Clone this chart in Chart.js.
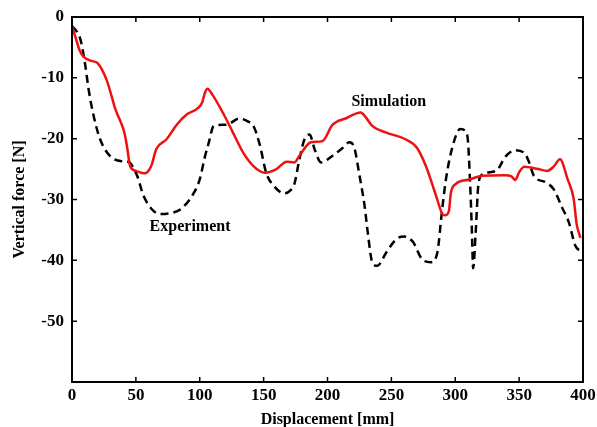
<!DOCTYPE html>
<html>
<head>
<meta charset="utf-8">
<script src="https://cdn.jsdelivr.net/npm/chart.js@4.4.1/dist/chart.umd.min.js"></script>
<style>
  html, body { margin: 0; padding: 0; background: #fff; }
  #forceChart { display: block; }
</style>
</head>
<body>
<canvas id="forceChart" width="597" height="427"></canvas>
<script>
const simX = [0, 3, 6, 9, 15, 20, 27, 31, 34, 38, 41, 43, 45.5, 50, 57, 62, 66, 74, 82, 90, 99, 102, 104, 106, 110, 118, 126, 134, 142, 151, 160, 168, 174, 178, 187, 196, 204, 215, 226, 230, 235, 246, 261, 270, 277, 285, 290, 292, 295, 296.6, 300, 311, 321, 339, 344, 347, 350, 354, 365, 372, 377, 382, 388, 392.7, 395, 398]
const simY = [-1.5, -3.5, -5.5, -6.5, -7.2, -7.6, -10.3, -13, -15.2, -17.2, -19, -21.2, -24.5, -25.3, -25.7, -24.5, -21.7, -20.1, -17.7, -16, -14.9, -14, -12.5, -11.8, -12.8, -15.7, -19, -22.3, -24.5, -25.6, -25, -23.8, -23.9, -22.8, -20.6, -20.4, -17.7, -16.6, -15.7, -16.5, -17.9, -19, -20.1, -21.5, -24.5, -29.4, -32.4, -32.6, -31.9, -28.9, -27.5, -26.7, -26.1, -26, -26.2, -26.8, -25.5, -24.6, -25, -25.3, -24.6, -23.4, -26.7, -29.9, -34, -36.3]

const expX = [0, 4, 7, 10.5, 13, 17, 22, 30, 39, 44, 51, 56, 64, 70, 78, 85, 94, 100, 104, 107, 111, 121, 131, 138, 142, 147, 152, 159, 166, 171, 174, 178, 182, 186, 190, 195, 204, 212, 217, 221, 225, 229, 231.5, 235, 239, 246, 254, 260, 267, 274, 281, 286, 289.5, 292.7, 298, 304, 308, 310, 311.5, 313, 314, 316, 318, 321, 332, 339.5, 347, 355, 358, 361.5, 371, 377, 383.6, 389, 394, 398]
const expY = [-1.5, -2.5, -4, -8.1, -11.9, -16.3, -20.1, -22.9, -23.7, -23.8, -26.1, -29.4, -31.9, -32.4, -32.2, -31.6, -29.4, -26.7, -23, -20.7, -17.9, -17.7, -16.7, -17.2, -17.9, -21, -25.6, -28, -29, -28.5, -27.5, -23.4, -20.1, -19.3, -21.8, -23.9, -22.8, -21.5, -20.6, -21.5, -26, -31, -35.4, -40.3, -40.9, -38.7, -36.5, -36.1, -37, -39.8, -40.3, -38.7, -32.1, -26.7, -21.2, -18.4, -18.8, -20.5, -26.7, -34.9, -41.3, -35.4, -27.8, -25.9, -25.3, -22.9, -21.9, -22.6, -24, -26.1, -27.2, -28.3, -31.3, -33.8, -37.6, -38.5]

const seriesNames = ['Simulation', 'Experiment']
const seriesLabelAt = [[248, -13.9], [92.4, -34.5]]

const serif = "'Liberation Serif', 'DejaVu Serif', serif"

const toPoints = (xs, ys) => xs.map((x, i) => ({ x, y: ys[i] }))

// frame around the plot with inward ticks on all four sides
const framePlugin = {
    id: 'frame',
    afterDatasetsDraw(chart) {
        const { ctx, chartArea: a, scales: { x, y } } = chart
        const len = 5
        ctx.save()
        ctx.strokeStyle = '#000'
        ctx.lineWidth = 1.5
        x.ticks.forEach(t => {
            const px = x.getPixelForValue(t.value)
            ctx.beginPath()
            ctx.moveTo(px, a.bottom); ctx.lineTo(px, a.bottom - len)
            ctx.moveTo(px, a.top); ctx.lineTo(px, a.top + len)
            ctx.stroke()
        })
        y.ticks.forEach(t => {
            const py = y.getPixelForValue(t.value)
            ctx.beginPath()
            ctx.moveTo(a.left, py); ctx.lineTo(a.left + len, py)
            ctx.moveTo(a.right, py); ctx.lineTo(a.right - len, py)
            ctx.stroke()
        })
        ctx.lineWidth = 2
        ctx.strokeRect(a.left, a.top, a.right - a.left, a.bottom - a.top)

        ctx.fillStyle = '#000'
        ctx.font = 'bold 16px ' + serif
        ctx.textAlign = 'center'
        ctx.textBaseline = 'middle'
        seriesNames.forEach((name, i) => {
            const [vx, vy] = seriesLabelAt[i]
            ctx.fillText(name, x.getPixelForValue(vx), y.getPixelForValue(vy))
        })
        ctx.restore()
    }
}

const data = {
    datasets: [{
        label: seriesNames[0],
        data: toPoints(simX, simY),
        borderColor: '#ee1111',
        borderWidth: 2.5,
        pointRadius: 0,
        cubicInterpolationMode: 'monotone'
    }, {
        label: seriesNames[1],
        data: toPoints(expX, expY),
        borderColor: '#000',
        borderWidth: 2.5,
        borderDash: [8, 5],
        pointRadius: 0,
        cubicInterpolationMode: 'monotone'
    }]
}

const options = {
    responsive: false,
    animation: false,
    layout: { padding: { left: 0, right: 14, top: 17, bottom: 0 } },
    plugins: {
        legend: { display: false },
        tooltip: { enabled: false }
    },
    scales: {
        x: {
            type: 'linear',
            min: 0,
            max: 400,
            grid: { display: false, drawTicks: false },
            border: { display: false },
            ticks: { stepSize: 50, padding: 3, color: '#000', font: { family: serif, size: 17, weight: 'bold' } },
            title: { display: true, text: 'Displacement [mm]', color: '#000', padding: { top: 0, bottom: -2 }, font: { family: serif, size: 16, weight: 'bold' } },
            afterFit: scale => {
                scale.height = 45
                scale.paddingRight = 0
                scale.paddingLeft = 0
            }
        },
        y: {
            min: -60,
            max: 0,
            grid: { display: false, drawTicks: false },
            border: { display: false },
            ticks: {
                stepSize: 10, padding: 8, color: '#000',
                font: { family: serif, size: 17, weight: 'bold' },
                callback: v => v === -60 ? '' : String(v)
            },
            title: { display: true, text: 'Vertical force [N]', color: '#000', padding: { top: 10 }, font: { family: serif, size: 16, weight: 'bold' } },
            afterFit: scale => {
                scale.width = 72
                scale.paddingTop = 0
                scale.paddingBottom = 0
            }
        }
    }
}

new Chart('forceChart', { type: 'line', data, options, plugins: [framePlugin] })
</script>
</body>
</html>
